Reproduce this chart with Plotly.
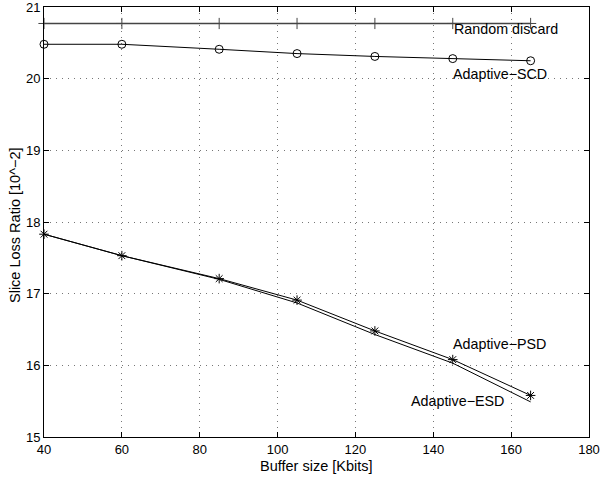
import plotly.graph_objects as go

buffer_kbits = [40, 60, 85, 105, 125, 145, 165]
random_discard = [20.77, 20.77, 20.77, 20.77, 20.77, 20.77, 20.77]
adaptive_scd = [20.48, 20.48, 20.41, 20.35, 20.31, 20.28, 20.25]
adaptive_psd = [17.83, 17.53, 17.21, 16.91, 16.48, 16.08, 15.58]
adaptive_esd = [17.83, 17.53, 17.20, 16.87, 16.43, 16.03, 15.49]

x_ticks = [40, 60, 80, 100, 120, 140, 160, 180]
y_ticks = [15, 16, 17, 18, 19, 20, 21]

labels = [
    ("Random discard", 144.8, 20.69),
    ("Adaptive\u2212SCD", 144.6, 20.07),
    ("Adaptive\u2212PSD", 144.6, 16.30),
    ("Adaptive\u2212ESD", 133.8, 15.50),
]

x_title = "Buffer size [Kbits]"
y_title = "Slice Loss Ratio [10^\u22122]"

FONT = "Liberation Sans, Arial, sans-serif"

fig = go.Figure()
fig.add_trace(go.Scatter(x=buffer_kbits, y=random_discard, mode="lines+markers",
                         line=dict(color="#444444", width=1.3),
                         marker=dict(symbol="cross-thin-open", size=8,
                                     line=dict(color="black", width=1)),
                         cliponaxis=False, showlegend=False))
fig.add_trace(go.Scatter(x=buffer_kbits, y=adaptive_scd, mode="lines+markers",
                         line=dict(color="black", width=1),
                         marker=dict(symbol="circle-open", size=8, color="black",
                                     line=dict(color="black", width=1)),
                         cliponaxis=False, showlegend=False))
fig.add_trace(go.Scatter(x=buffer_kbits, y=adaptive_esd, mode="lines",
                         line=dict(color="black", width=1),
                         cliponaxis=False, showlegend=False))
fig.add_trace(go.Scatter(x=buffer_kbits, y=adaptive_psd, mode="lines+markers",
                         line=dict(color="black", width=1),
                         marker=dict(symbol="asterisk-open", size=8,
                                     line=dict(color="black", width=1)),
                         cliponaxis=False, showlegend=False))

for text, xv, yv in labels:
    fig.add_annotation(x=xv, y=yv, text=text, showarrow=False, xanchor="left",
                       yanchor="middle", font=dict(family=FONT, size=14.3, color="black"))

fig.add_annotation(xref="paper", yref="paper", x=0.5, y=0, yanchor="middle",
                   yshift=-29, xshift=0, text=x_title, showarrow=False,
                   font=dict(family=FONT, size=14.5, color="black"))
fig.add_annotation(xref="paper", yref="paper", x=0, y=0.493, xanchor="center",
                   yanchor="middle", xshift=-29, textangle=-90, text=y_title,
                   showarrow=False, font=dict(family=FONT, size=14.5, color="black"))

axis_common = dict(showline=True, linecolor="black", linewidth=1, mirror="ticks",
                   ticks="inside", ticklen=5, tickcolor="black", automargin=False,
                   ticklabeloverflow="allow",
                   showgrid=True, gridcolor="#777777", griddash="1px,5px", gridwidth=1,
                   zeroline=False, tickfont=dict(family=FONT, size=13, color="black"))

fig.update_xaxes(range=[40, 180], tickvals=x_ticks, ticktext=[str(v) for v in x_ticks],
                 **axis_common)
fig.update_yaxes(range=[15, 21], tickvals=y_ticks, ticktext=[str(v) for v in y_ticks],
                 **axis_common)

fig.update_layout(width=602, height=479, margin=dict(l=44, r=13, t=7, b=42),
                  paper_bgcolor="white", plot_bgcolor="white",
                  font=dict(family=FONT, color="black"))

fig.write_html("out.html", config={"displayModeBar": False},
               post_script="document.body.style.margin='0';")
